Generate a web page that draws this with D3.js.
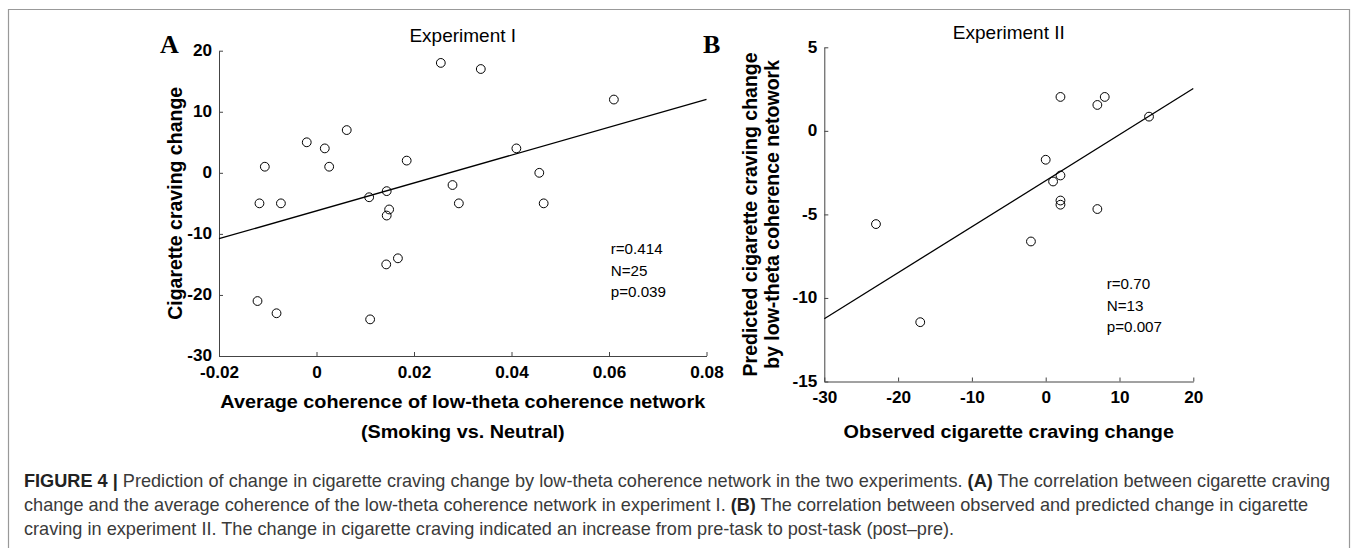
<!DOCTYPE html>
<html>
<head>
    <title>Figure 4</title>
    <meta charset="utf-8" />
    <script src="https://d3js.org/d3.v7.min.js"></script>
    <style>
        body { margin: 0; background: #fff; }
        text { font-family: Arial, "Liberation Sans", Helvetica, sans-serif; }
    </style>
</head>

<body>
    <script type="text/javascript">
        // panel A: average coherence vs craving change (experiment I)
        var coherenceA = [0.0255, 0.0337, 0.041, -0.0106, -0.002, 0.0017, 0.0026, 0.0062, 0.0185, 0.0279,
                          -0.0117, -0.0073, 0.0108, 0.0144, 0.0149, 0.0144, 0.0292, 0.0167, 0.0143,
                          -0.0121, -0.0082, 0.011, 0.061, 0.0457, 0.0466];
        var cravingA   = [18, 17, 4, 1, 5, 4, 1, 7, 2, -2,
                          -5, -5, -4, -3, -6, -7, -5, -14, -15,
                          -21, -23, -24, 12, 0, -5];

        // panel B: observed vs predicted craving change (experiment II)
        var observedB  = [2, 7, 8, 14, 0, 1, 2, 2, 2, 7, -23, -2, -17];
        var predictedB = [2.03, 1.55, 2.03, 0.85, -1.73, -3.03, -2.67, -4.17, -4.42, -4.68, -5.58, -6.62, -11.45];

        var ticksAx = [-0.02, 0, 0.02, 0.04, 0.06, 0.08];
        var ticksAy = [-30, -20, -10, 0, 10, 20];
        var ticksBx = [-30, -20, -10, 0, 10, 20];
        var ticksBy = [-15, -10, -5, 0, 5];

        var statsA = ["r=0.414", "N=25", "p=0.039"];
        var statsB = ["r=0.70", "N=13", "p=0.007"];

        var caption = [
            [["FIGURE 4 |", true], [" Prediction of change in cigarette craving change by low-theta coherence network in the two experiments. ", false], ["(A)", true], [" The correlation between cigarette craving", false]],
            [["change and the average coherence of the low-theta coherence network in experiment I. ", false], ["(B)", true], [" The correlation between observed and predicted change in cigarette", false]],
            [["craving in experiment II. The change in cigarette craving indicated an increase from pre-task to post-task (post\u2013pre).", false]]
        ];

        var w = 1355,
            h = 548;

        var svg = d3.select("body")
                    .append("svg")
                    .attr("width", w)
                    .attr("height", h);

        // frame round the figure
        svg.append("path")
           .attr("d", "M8.5,548V9.5H1349.5V548")
           .attr("fill", "none")
           .attr("stroke", "#999")
           .attr("stroke-width", 1.2);

        var fmt = function(d){ return String(d); };

        // squeeze/widen text horizontally about its own anchor
        function stretch(sel, sx){
            sel.each(function(){
                var t = d3.select(this);
                var x = +t.attr("x") || 0, y = +t.attr("y") || 0;
                t.attr("transform", "translate(" + x + "," + y + ") scale(" + sx + ",1) translate(" + (-x) + "," + (-y) + ")");
            });
        }

        function fit(xs, ys){
            var mx = d3.mean(xs), my = d3.mean(ys);
            var sxy = d3.sum(xs, function(v, i){ return (v - mx) * (ys[i] - my); });
            var sxx = d3.sum(xs, function(v){ return (v - mx) * (v - mx); });
            var b = sxy / sxx;
            return function(x){ return my + b * (x - mx); };
        }

        function panel(o){
            var g = svg.append("g");

            g.append("g")
             .attr("transform", "translate(0," + o.y.range()[0] + ")")
             .call(d3.axisBottom(o.x).tickValues(o.xt).tickFormat(fmt)
                     .tickSizeInner(-4).tickSizeOuter(0).tickPadding(o.xpad));
            g.append("g")
             .attr("transform", "translate(" + o.x.range()[0] + ",0)")
             .call(d3.axisLeft(o.y).tickValues(o.yt).tickFormat(fmt)
                     .tickSizeInner(-4).tickSizeOuter(0).tickPadding(7));

            g.selectAll(".domain, .tick line").attr("stroke", "#444").attr("stroke-width", 1);
            g.selectAll(".tick text")
             .attr("fill", "#000")
             .style("font-size", "15.6px")
             .style("font-weight", "bold");
            stretch(g.selectAll(".tick text"), 1.1);

            // regression line across the x domain
            var f = fit(o.xs, o.ys);
            var dom = o.x.domain();
            g.append("line")
             .attr("x1", o.x(dom[0])).attr("y1", o.y(f(dom[0])))
             .attr("x2", o.x(dom[1])).attr("y2", o.y(f(dom[1])))
             .attr("stroke", "#000")
             .attr("stroke-width", 1.3);

            g.selectAll("circle")
             .data(o.xs)
             .enter()
             .append("circle")
             .attr("cx", function(d){ return o.x(d); })
             .attr("cy", function(d, i){ return o.y(o.ys[i]); })
             .attr("r", 4.4)
             .attr("fill", "none")
             .attr("stroke", "#000")
             .attr("stroke-width", 1);

            var cx = (o.x.range()[0] + o.x.range()[1]) / 2;
            g.append("text")
             .attr("x", cx).attr("y", o.titleY)
             .attr("text-anchor", "middle")
             .style("font-size", "19px")
             .text(o.title);

            g.selectAll(".stat")
             .data(o.stats)
             .enter()
             .append("text")
             .attr("class", "stat")
             .attr("x", o.statX)
             .attr("y", function(d, i){ return o.statY + i * 21.7; })
             .style("font-size", "15.2px")
             .text(function(d){ return d; });

            g.append("text")
             .attr("x", o.letterX).attr("y", 53)
             .style("font-family", "'Times New Roman', 'Liberation Serif', serif")
             .style("font-weight", "bold")
             .style("font-size", "26px")
             .text(o.letter);

            var cy = (o.y.range()[0] + o.y.range()[1]) / 2;
            o.ylab.forEach(function(s, i){
                g.append("text")
                 .attr("transform", "translate(" + (o.ylabX + i * 21.5) + "," + cy + ") rotate(-90)")
                 .attr("text-anchor", "middle")
                 .style("font-size", "19.5px")
                 .style("font-weight", "bold")
                 .text(s);
            });

            var xl = g.selectAll(".xlab")
                      .data(o.xlab)
                      .enter()
                      .append("text")
                      .attr("class", "xlab")
                      .attr("x", cx)
                      .attr("y", function(d, i){ return o.xlabY + i * 30; })
                      .attr("text-anchor", "middle")
                      .style("font-size", "17.7px")
                      .style("font-weight", "bold")
                      .text(function(d){ return d; });
            stretch(xl, 1.12);
        }

        panel({
            x: d3.scaleLinear().domain([-0.02, 0.08]).range([219, 706.5]),
            y: d3.scaleLinear().domain([-30, 20]).range([356, 50.7]),
            xt: ticksAx, yt: ticksAy, xpad: 11,
            xs: coherenceA, ys: cravingA,
            title: "Experiment I", titleY: 41.7,
            stats: statsA, statX: 610.7, statY: 254,
            letter: "A", letterX: 160,
            ylab: ["Cigarette craving change"], ylabX: 182,
            xlab: ["Average coherence of low-theta coherence network", "(Smoking vs. Neutral)"], xlabY: 408
        });

        panel({
            x: d3.scaleLinear().domain([-30, 20]).range([824.3, 1193.3]),
            y: d3.scaleLinear().domain([-15, 5]).range([381.5, 47.3]),
            xt: ticksBx, yt: ticksBy, xpad: 10,
            xs: observedB, ys: predictedB,
            title: "Experiment II", titleY: 39,
            stats: statsB, statX: 1106.7, statY: 289,
            letter: "B", letterX: 703,
            ylab: ["Predicted cigarette craving change", "by low-theta coherence netowork"], ylabX: 757,
            xlab: ["Observed cigarette craving change"], xlabY: 438
        });

        // caption, three fixed lines, narrowed to the printed width
        var cap = svg.append("g");
        var lines = caption.map(function(parts, i){
            var t = cap.append("text")
                       .attr("x", 24)
                       .attr("y", 487.3 + i * 23.9)
                       .attr("fill", "#333")
                       .style("font-size", "18px");
            parts.forEach(function(p){
                t.append("tspan")
                 .style("font-weight", p[1] ? "bold" : "normal")
                 .attr("fill", p[1] ? "#222" : "#3a3a3a")
                 .text(p[0]);
            });
            return t;
        });
        var sx = (1331 - 24) / lines[0].node().getComputedTextLength();
        lines.forEach(function(t){ stretch(t, sx); });
    </script>
</body>
</html>
